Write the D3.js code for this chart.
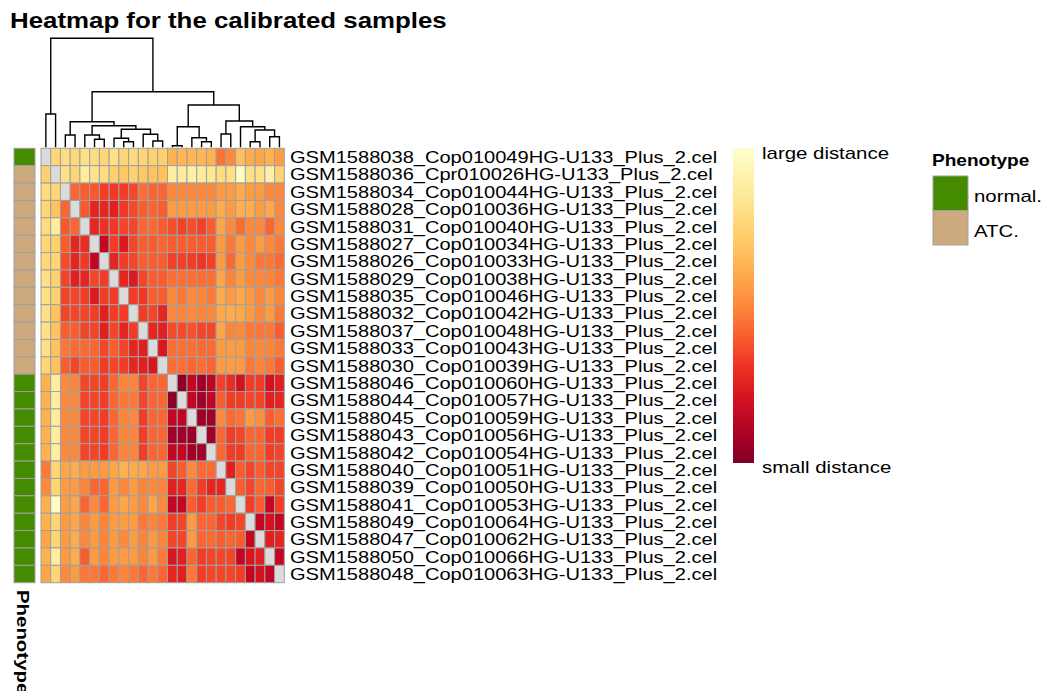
<!DOCTYPE html>
<html>
<head>
<meta charset="utf-8">
<script src="https://cdn.jsdelivr.net/npm/d3@7"></script>
<style>
  body { margin: 0; background: #fff; }
  text { font-family: "Liberation Sans", Arial, sans-serif; }
</style>
</head>
<body>
<div id="chart"></div>
<script>
// sample names, in dendrogram order (rows and columns share it)
const samples = [
  'GSM1588038_Cop010049HG-U133_Plus_2.cel',
  'GSM1588036_Cpr010026HG-U133_Plus_2.cel',
  'GSM1588034_Cop010044HG-U133_Plus_2.cel',
  'GSM1588028_Cop010036HG-U133_Plus_2.cel',
  'GSM1588031_Cop010040HG-U133_Plus_2.cel',
  'GSM1588027_Cop010034HG-U133_Plus_2.cel',
  'GSM1588026_Cop010033HG-U133_Plus_2.cel',
  'GSM1588029_Cop010038HG-U133_Plus_2.cel',
  'GSM1588035_Cop010046HG-U133_Plus_2.cel',
  'GSM1588032_Cop010042HG-U133_Plus_2.cel',
  'GSM1588037_Cop010048HG-U133_Plus_2.cel',
  'GSM1588033_Cop010043HG-U133_Plus_2.cel',
  'GSM1588030_Cop010039HG-U133_Plus_2.cel',
  'GSM1588046_Cop010060HG-U133_Plus_2.cel',
  'GSM1588044_Cop010057HG-U133_Plus_2.cel',
  'GSM1588045_Cop010059HG-U133_Plus_2.cel',
  'GSM1588043_Cop010056HG-U133_Plus_2.cel',
  'GSM1588042_Cop010054HG-U133_Plus_2.cel',
  'GSM1588040_Cop010051HG-U133_Plus_2.cel',
  'GSM1588039_Cop010050HG-U133_Plus_2.cel',
  'GSM1588041_Cop010053HG-U133_Plus_2.cel',
  'GSM1588049_Cop010064HG-U133_Plus_2.cel',
  'GSM1588047_Cop010062HG-U133_Plus_2.cel',
  'GSM1588050_Cop010066HG-U133_Plus_2.cel',
  'GSM1588048_Cop010063HG-U133_Plus_2.cel'
];

const phenotype = [
  'normal.', 'ATC.', 'ATC.', 'ATC.', 'ATC.', 'ATC.', 'ATC.', 'ATC.', 'ATC.',
  'ATC.', 'ATC.', 'ATC.', 'ATC.', 'normal.', 'normal.', 'normal.', 'normal.',
  'normal.', 'normal.', 'normal.', 'normal.', 'normal.', 'normal.', 'normal.', 'normal.'
];

const phenotype_levels = ['normal.', 'ATC.'];
const phenotype_colors = ['#458B00', '#CDAA7D'];

// distance (0 = small, 100 = large), null on the diagonal
const distances = [
  [null,75,78,76,80,78,75,80,75,77,75,73,73,62,64,64,64,62,45,50,67,60,58,62,56],
  [73,null,80,75,87,82,78,73,70,73,70,68,68,88,87,90,87,83,78,80,98,80,80,90,74],
  [78,75,null,42,40,39,33,32,33,36,44,42,42,50,50,50,50,50,55,55,60,55,55,50,50],
  [75,68,42,null,39,27,27,25,32,36,40,42,40,55,55,55,55,55,60,55,61,61,55,59,50],
  [78,87,39,42,null,27,30,32,35,35,42,43,40,37,34,37,34,40,58,50,43,50,50,42,50],
  [75,73,40,27,29,null,15,33,23,35,40,40,42,40,40,40,40,40,55,46,55,50,55,50,46],
  [76,75,36,27,32,15,null,27,33,35,40,40,40,34,34,33,31,34,55,43,55,50,46,46,43],
  [80,73,35,25,27,35,33,null,27,23,35,40,40,44,44,44,44,44,58,49,55,50,50,49,46],
  [80,73,35,35,33,23,33,33,null,33,32,40,40,50,46,50,49,46,60,55,59,55,50,55,49],
  [80,68,35,35,35,33,25,33,33,null,33,35,27,50,49,50,49,50,59,60,59,55,50,55,46],
  [80,68,40,40,35,35,25,35,27,33,null,27,25,36,36,38,35,35,58,49,50,46,46,46,40],
  [80,68,46,43,43,42,35,40,35,27,25,null,22,44,44,44,43,43,55,55,55,49,50,49,46],
  [75,68,40,35,40,40,33,35,33,27,25,22,null,44,44,42,44,42,55,55,55,46,49,46,40],
  [62,88,50,49,35,35,33,42,49,49,35,42,42,null,2,15,7,14,34,29,20,33,33,20,25],
  [62,88,50,50,35,35,33,42,46,46,35,42,42,2,null,15,7,14,40,33,33,35,35,25,27],
  [62,88,50,50,35,35,33,42,49,50,33,42,42,15,14,null,6,7,50,43,45,55,52,40,44],
  [62,88,50,50,35,35,33,42,49,49,33,42,42,7,7,6,null,7,42,33,35,42,42,33,33],
  [62,88,50,50,35,35,33,42,49,49,33,42,42,15,15,7,7,null,42,33,33,42,42,33,35],
  [46,75,58,60,55,55,55,58,62,60,58,55,55,35,40,50,43,43,null,25,40,35,40,35,35],
  [50,75,55,55,49,42,42,55,50,55,49,50,49,25,27,43,33,27,27,null,40,35,42,40,35],
  [62,98,55,58,42,50,42,55,58,55,50,58,50,15,15,40,33,40,40,42,null,33,40,15,33],
  [62,75,55,58,49,55,49,55,55,55,46,49,46,33,35,55,42,42,35,33,35,null,15,20,15],
  [58,75,55,60,50,55,49,55,50,55,49,55,49,35,35,55,42,43,40,42,40,15,null,25,27],
  [62,88,55,60,40,55,49,55,55,55,49,55,46,22,25,42,33,35,35,35,15,22,25,null,15],
  [58,75,50,55,46,46,42,46,49,46,42,46,42,27,25,46,33,35,35,35,33,15,20,15,null]
];

// column dendrogram: leaves are sample indices, h = merge height
const dendro = {h: 109, c: [
  {h: 33.3, c: [0, 1]},
  {h: 55.6, c: [
    {h: 25.6, c: [
      {h: 12.3, c: [2, 3]},
      {h: 21.6, c: [
        {h: 12.3, c: [4, {h: 8, c: [5, 6]}]},
        {h: 18, c: [
          {h: 9, c: [7, {h: 5.6, c: [8, 9]}]},
          {h: 13, c: [10, {h: 6.3, c: [11, 12]}]}
        ]}
      ]}
    ]},
    {h: 42.3, c: [
      {h: 20.6, c: [
        {h: 1.6, c: [13, 14]},
        {h: 9.6, c: [15, {h: 5.6, c: [16, 17]}]}
      ]},
      {h: 26.3, c: [
        {h: 13.3, c: [18, 19]},
        {h: 20.6, c: [20, {h: 17.3, c: [
          {h: 5.6, c: [21, 22]},
          {h: 10.6, c: [23, 24]}
        ]}]}
      ]}
    ]}
  ]}
]};

const W = 1043, H = 691;
const grid_color = '#A0A0A0';
const na_color = '#DBDBDB';
// the source renders its sans font wider than Liberation Sans
const stretch = 1.25;

const svg = d3.select('#chart').append('svg')
  .attr('width', W)
  .attr('height', H);

// stretch a text selection horizontally to the wider look of the original
function widen(sel, k = stretch) {
  sel.each(function () {
    const w = this.getComputedTextLength();
    d3.select(this)
      .attr('textLength', w * k)
      .attr('lengthAdjust', 'spacingAndGlyphs');
  });
}

// Title
svg.append('text')
  .attr('x', 10)
  .attr('y', 28)
  .style('font-size', '22px')
  .style('font-weight', 'bold')
  .text('Heatmap for the calibrated samples')
  .call(widen, 1.175);

const idx = d3.range(samples.length);
const x_scale = d3.scaleBand().domain(idx).range([41, 284.3]);
const y_scale = d3.scaleBand().domain(idx).range([148.3, 582.7]);
const color = d3.scaleSequential(d3.interpolateYlOrRd).domain([100, 0]);
const pheno_color = d3.scaleOrdinal().domain(phenotype_levels).range(phenotype_colors);

// Heatmap cells
const cells = [];
distances.forEach((row, i) => row.forEach((v, j) => cells.push({i, j, v})));

svg.append('g')
  .selectAll('rect')
  .data(cells)
  .enter()
  .append('rect')
  .attr('x', d => x_scale(d.j))
  .attr('y', d => y_scale(d.i))
  .attr('width', x_scale.bandwidth())
  .attr('height', y_scale.bandwidth())
  .attr('fill', d => d.v == null ? na_color : color(d.v))
  .attr('stroke', grid_color)
  .attr('stroke-width', 1);

// Phenotype annotation column
const ann_x = d3.scaleBand().domain(['Phenotype']).range([14, 35]);
svg.append('g')
  .selectAll('rect')
  .data(phenotype)
  .enter()
  .append('rect')
  .attr('x', ann_x('Phenotype'))
  .attr('y', (d, i) => y_scale(i))
  .attr('width', ann_x.bandwidth())
  .attr('height', y_scale.bandwidth())
  .attr('fill', d => pheno_color(d))
  .attr('stroke', grid_color)
  .attr('stroke-width', 1);

svg.append('text')
  .attr('transform', `translate(${ann_x('Phenotype') + 3},590)rotate(90)`)
  .style('font-size', '17px')
  .style('font-weight', 'bold')
  .text('Phenotype')
  .call(widen, 1.2);

// Row labels
svg.append('g')
  .selectAll('text')
  .data(samples)
  .enter()
  .append('text')
  .attr('x', 290)
  .attr('y', (d, i) => y_scale(i) + y_scale.bandwidth() / 2)
  .attr('dy', '0.36em')
  .style('font-size', '17px')
  .text(d => d)
  .call(widen, 1.18);

// Dendrogram
const h_scale = d3.scaleLinear().domain([0, 109]).range([147.3, 38.3]);
const dendro_paths = [];
function walk(node) {
  if (typeof node === 'number') return {x: x_scale(node) + x_scale.bandwidth() / 2, h: 0};
  const [a, b] = node.c.map(walk);
  dendro_paths.push(`M${a.x},${h_scale(a.h)}V${h_scale(node.h)}H${b.x}V${h_scale(b.h)}`);
  return {x: (a.x + b.x) / 2, h: node.h};
}
walk(dendro);

svg.append('g')
  .selectAll('path')
  .data(dendro_paths)
  .enter()
  .append('path')
  .attr('d', d => d)
  .attr('fill', 'none')
  .attr('stroke', '#000')
  .attr('stroke-width', 1.4);

// Colour legend
const defs = svg.append('defs');
const grad = defs.append('linearGradient')
  .attr('id', 'dist_grad')
  .attr('x1', 0).attr('x2', 0).attr('y1', 0).attr('y2', 1);
d3.range(0, 1.0001, 0.1).forEach(t => {
  grad.append('stop')
    .attr('offset', t)
    .attr('stop-color', color(100 - t * 100));
});

const legend_scale = d3.scaleLinear().domain([100, 0]).range([148, 463]);
svg.append('rect')
  .attr('x', 733)
  .attr('y', legend_scale(100))
  .attr('width', 21)
  .attr('height', legend_scale(0) - legend_scale(100))
  .attr('fill', 'url(#dist_grad)');

svg.append('text')
  .attr('x', 762)
  .attr('y', 159)
  .style('font-size', '17px')
  .text('large distance')
  .call(widen, 1.2);

svg.append('text')
  .attr('x', 762)
  .attr('y', 473)
  .style('font-size', '17px')
  .text('small distance')
  .call(widen, 1.2);

// Phenotype legend
svg.append('text')
  .attr('x', 932)
  .attr('y', 166)
  .style('font-size', '17px')
  .style('font-weight', 'bold')
  .text('Phenotype')
  .call(widen, 1.12);

const leg = svg.append('g')
  .selectAll('g')
  .data(phenotype_levels)
  .enter()
  .append('g')
  .attr('transform', (d, i) => `translate(933,${176 + i * 34.5})`);

leg.append('rect')
  .attr('width', 35)
  .attr('height', 34.5)
  .attr('fill', d => pheno_color(d))
  .attr('stroke', grid_color)
  .attr('stroke-width', 1);

leg.append('text')
  .attr('x', 41)
  .attr('y', 26)
  .style('font-size', '17px')
  .text(d => d)
  .call(widen, 1.2);
</script>
</body>
</html>
